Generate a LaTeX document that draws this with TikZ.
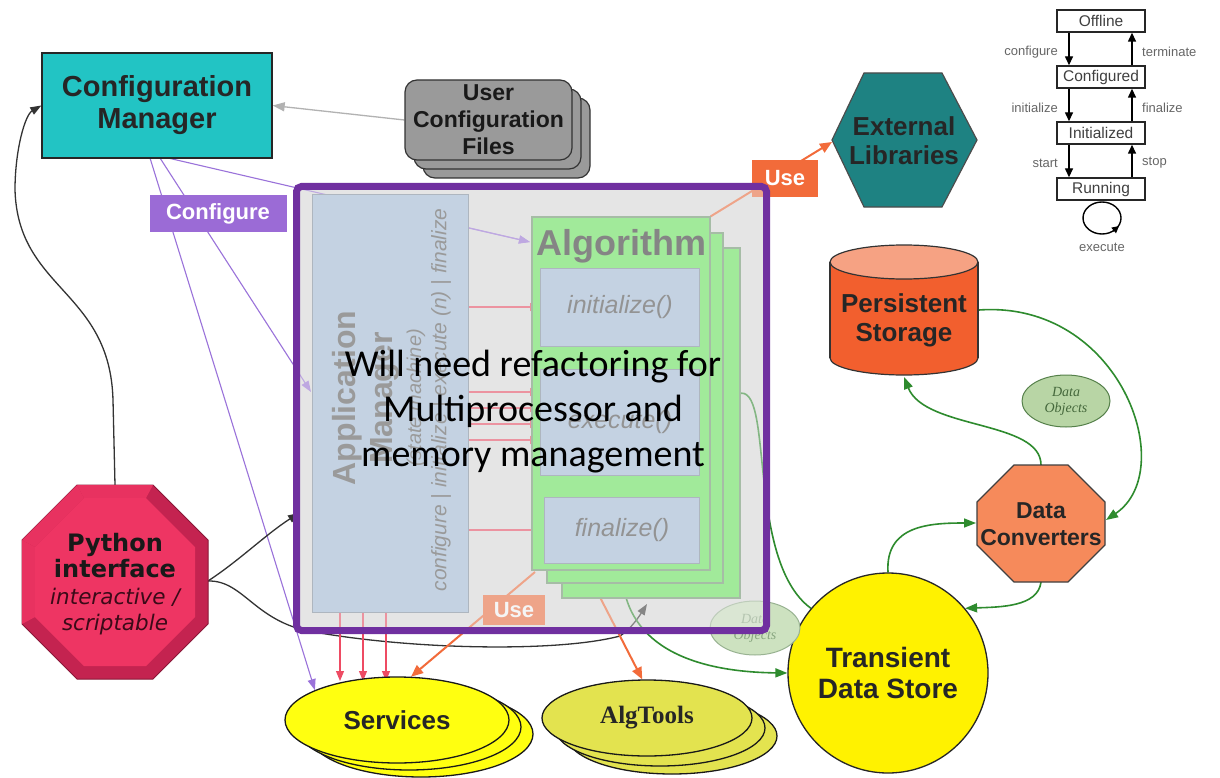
\documentclass[tikz,border=0pt]{standalone}
\usepackage{fontspec}
\setmainfont{Liberation Sans}
\newfontfamily\carlito{Carlito}
\newfontfamily\tmsfont{Liberation Serif}
\newfontfamily\dvsfont{DejaVu Sans}
\usetikzlibrary{arrows.meta,shapes.geometric}
\newcommand\setfs[2]{\fontsize{#1}{#2}\selectfont}

\definecolor{cmteal}{HTML}{22C4C4}
\definecolor{ucfgray}{HTML}{9A9A9A}
\definecolor{cfgpurple}{HTML}{9B6BD6}
\definecolor{linepurple}{HTML}{9A72DA}
\definecolor{boxpurple}{HTML}{7030A0}
\definecolor{veilgray}{HTML}{EBEBEB}
\definecolor{basegray}{HTML}{E1E1E1}
\definecolor{ambl}{HTML}{A5BFDC}
\definecolor{ambord}{HTML}{7C8C9C}
\definecolor{algrn}{HTML}{66EA58}
\definecolor{algbord}{HTML}{6F966F}
\definecolor{callpink}{HTML}{EE4B63}
\definecolor{useorange}{HTML}{F26B3A}
\definecolor{extteal}{HTML}{1E8282}
\definecolor{psred}{HTML}{F25F2E}
\definecolor{pstop}{HTML}{F6A283}
\definecolor{dcorange}{HTML}{F68A5B}
\definecolor{flowgreen}{HTML}{2E8B2E}
\definecolor{dobjfill}{HTML}{B8D5A5}
\definecolor{dobjline}{HTML}{55804A}
\definecolor{svcyellow}{HTML}{FFFF10}
\definecolor{atyellow}{HTML}{E3E34F}
\definecolor{pyouter}{HTML}{C42350}
\definecolor{pyinner}{HTML}{EE3563}

\pgfdeclarelayer{base}
\pgfdeclarelayer{links}
\pgfdeclarelayer{veil}
\pgfsetlayers{base,links,main,veil}

\begin{document}
\begin{tikzpicture}[x=1pt,y=-1pt,
  smbox/.style={draw=black!85, line width=1.4pt, fill=white, minimum width=88pt,
    minimum height=22pt, inner sep=0pt, font=\setfs{15.5}{18}, text=black!75},
  smlbl/.style={font=\setfs{13}{15}, text=black!60, inner sep=0pt},
  smarr/.style={line width=1.4pt, -{Triangle[length=9pt,width=8pt]}},
  purpl/.style={draw=linepurple, line width=1.1pt, -{Triangle[length=11pt,width=8pt]}},
  pinkarr/.style={draw=callpink, line width=1.1pt, -{Triangle[length=10pt,width=8pt]}},
  orarr/.style={draw=useorange, line width=2pt, -{Triangle[length=12pt,width=10pt]}},
  grnarr/.style={draw=flowgreen, line width=1.6pt, -{Triangle[length=12pt,width=9pt]}},
  blkarr/.style={draw=black!80, line width=1.3pt, -{Triangle[length=11pt,width=8pt]}},
  tag/.style={text=white, font=\bfseries\setfs{22}{24}, inner sep=0pt},
  dobj/.style={ellipse, draw=dobjline, fill=dobjfill, line width=1pt, inner sep=0pt,
    align=center, font=\tmsfont\itshape\setfs{14}{16}, text=dobjline!80!black},
  svcell/.style={ellipse, draw=black!90, fill=svcyellow, line width=1.3pt,
    minimum width=224pt, minimum height=86pt, inner sep=0pt},
  atell/.style={ellipse, draw=black!90, fill=atyellow, line width=1.3pt,
    minimum width=210pt, minimum height=76pt, inner sep=0pt},
  subbox/.style={draw=ambord, fill=ambl, line width=1pt, inner sep=0pt},
  algbox/.style={draw=algbord, fill=algrn, line width=1.2pt, inner sep=0pt}
]
\useasboundingbox (0,0) rectangle (1220,778);

% ---------- page and the region behind the framework core ----------
\begin{pgfonlayer}{base}
  \fill[white] (0,0) rectangle (1220,778);
  \fill[basegray] (296.5,186.5) rectangle (766.5,630.5);
\end{pgfonlayer}

% ---------- configuration ----------
\node[draw=black!85, line width=1.3pt, fill=cmteal, minimum width=230pt, minimum height=105pt,
  inner sep=0pt, align=center, font=\bfseries\setfs{29}{32}, text=black!85] (cm) at (157,105.5)
  {Configuration\\Manager};

\foreach \d in {18,9}
  \draw[fill=ucfgray, draw=black!80, line width=1.2pt, rounded corners=12pt]
    (405+\d,80+\d) rectangle (572+\d,160+\d);
\node[draw=black!80, fill=ucfgray, line width=1.2pt, rounded corners=12pt, minimum width=167pt,
  minimum height=80pt, inner sep=0pt, align=center, font=\bfseries\setfs{23}{27}, text=black!90]
  (ucf) at (488.5,120) {User\\Configuration\\Files};

\node[fill=cfgpurple, tag, minimum width=137pt, minimum height=37pt] (cfglbl) at (218,213.5) {Configure};

% ---------- application manager ----------
\node[subbox, minimum width=156pt, minimum height=417pt] (am) at (390,403.5) {};
\node[rotate=90, font=\bfseries\setfs{32}{34}, text=black!65] (amt1) at (347,398) {Application};
\node[rotate=90, font=\bfseries\setfs{32}{34}, text=black!65] (amt2) at (385,398) {Manager};
\node[rotate=90, font=\itshape\setfs{20}{22}, text=black!65] (amt3) at (416,398) {(state machine)};
\node[rotate=90, font=\itshape\setfs{21}{23}, text=black!65] (amt4) at (441,400)
  {configure | initialize | execute (n) | finalize};

% ---------- algorithm stack ----------
\node[algbox, minimum width=178pt, minimum height=350pt] (algb2) at (651,423) {};
\node[algbox, minimum width=176pt, minimum height=350pt] (algb1) at (635,408) {};
\node[algbox, minimum width=178pt, minimum height=353pt] (alg) at (621,393.5) {};
\node[font=\bfseries\setfs{36}{38}, text=black!80] (algt) at (621,246) {Algorithm};
\node[subbox, minimum width=159pt, minimum height=78pt] (ini) at (620,307)
  {\itshape\setfs{25}{27}\color{black!70}initialize()};
\node[subbox, minimum width=159pt, minimum height=106pt] (exe) at (620,422)
  {\itshape\setfs{25}{27}\color{black!70}execute()};
\node[subbox, minimum width=155pt, minimum height=66pt] (fin) at (622,530)
  {\itshape\setfs{25}{27}\color{black!70}finalize()};

% ---------- use labels ----------
\node[fill=useorange, tag, minimum width=66pt, minimum height=37pt] (use1) at (785,178.5) {Use};
\node[fill=useorange, tag, minimum width=62pt, minimum height=30pt] (use2) at (514,610) {Use};

% ---------- external libraries ----------
\filldraw[fill=extteal, draw=black!70, line width=1.2pt]
  (832,140) -- (864,73) -- (942,73) -- (977,140) -- (942,207) -- (864,207) -- cycle;
\node[align=center, font=\bfseries\setfs{26}{29}, text=black!85] (ext) at (904,141) {External\\Libraries};

% ---------- state machine ----------
\node[smbox] (off) at (1101,21) {Offline};
\node[smbox] (cfgd) at (1101,77) {Configured};
\node[smbox] (init) at (1101,133) {Initialized};
\node[smbox] (run) at (1101,189) {Running};
\coordinate (lx) at (1069,0);
\coordinate (rx) at (1132,0);
\draw[smarr] (off.south -| lx) -- (cfgd.north -| lx);
\draw[smarr] (cfgd.south -| lx) -- (init.north -| lx);
\draw[smarr] (init.south -| lx) -- (run.north -| lx);
\draw[smarr] (cfgd.north -| rx) -- (off.south -| rx);
\draw[smarr] (init.north -| rx) -- (cfgd.south -| rx);
\draw[smarr] (run.north -| rx) -- (init.south -| rx);
\node[smlbl, anchor=east] (lcfg) at (1058,52) {configure};
\node[smlbl, anchor=east] (linit) at (1058,108) {initialize};
\node[smlbl, anchor=east] (lstart) at (1058,163) {start};
\node[smlbl, anchor=west] (lterm) at (1142,52) {terminate};
\node[smlbl, anchor=west] (lfin) at (1142,108) {finalize};
\node[smlbl, anchor=west] (lstop) at (1142,163) {stop};
\draw[line width=1.4pt] (1102,218) ellipse[x radius=19, y radius=16];
\draw[line width=1.4pt, -{Triangle[length=7pt,width=7pt]}] (1113,231) -- (1119,226);
\node[smlbl] (exec) at (1102,247) {execute};

% ---------- persistent storage ----------
\filldraw[fill=psred, draw=black!80, line width=1.2pt] (904,358) ellipse[x radius=74, y radius=17];
\fill[psred] (830,262) rectangle (978,358);
\draw[black!80, line width=1.2pt] (830,262) -- (830,358) (978,262) -- (978,358);
\filldraw[fill=pstop, draw=black!80, line width=1.2pt] (904,262) ellipse[x radius=74, y radius=17];
\node[align=center, font=\bfseries\setfs{26}{29}, text=black!85] (ps) at (904,320) {Persistent\\Storage};
\coordinate (psb) at (904,377);
\coordinate (psr) at (979,310);

\node[dobj, minimum width=88pt, minimum height=52pt] (dobj1) at (1066,401) {Data\\Objects};

% ---------- data converters ----------
\filldraw[fill=dcorange, draw=black!75, line width=1.2pt]
  (1014,465) -- (1068,465) -- (1105,502) -- (1105,545) -- (1068,582) -- (1014,582) -- (977,545) -- (977,502) -- cycle;
\node[align=center, font=\bfseries\setfs{23}{27}, text=black!85] (dc) at (1041,524) {Data\\Converters};
\coordinate (dcn) at (1041,465);
\coordinate (dcs) at (1041,582);
\coordinate (dce) at (1106,520);
\coordinate (dcw) at (976,523);

% ---------- transient data store ----------
\node[circle, draw=black!85, line width=1.3pt, fill=yellow, minimum size=200pt, inner sep=0pt,
  align=center, font=\bfseries\setfs{28}{31}, text=black!85] (tds) at (888,673) {Transient\\Data Store};

\node[dobj, draw=dobjline!60, fill=dobjfill!70, text=dobjline!70,
  minimum width=90pt, minimum height=54pt] (dobj2) at (755,628) {Data\\Objects};

% ---------- services and tools ----------
\node[svcell] (svcb2) at (421,734) {};
\node[svcell] (svcb1) at (409,727) {};
\node[svcell, font=\bfseries\setfs{26}{28}, text=black!85] (svc) at (397,720) {Services};
\node[atell] (atb2) at (672,736) {};
\node[atell] (atb1) at (660,728) {};
\node[atell, font=\tmsfont\bfseries\setfs{25}{27}, text=black!85] (at) at (647,718) {AlgTools};

% ---------- python interface ----------
\filldraw[fill=pyouter, draw=pyouter!70!black, line width=1pt]
  (77,485) -- (153,485) -- (208,540) -- (208,624) -- (153,679) -- (77,679) -- (22,624) -- (22,540) -- cycle;
\fill[pyinner!85!pyouter] (77,485) -- (153,485) -- (146,498) -- (84,498) -- cycle;
\fill[pyinner!85!pyouter] (22,540) -- (77,485) -- (84,498) -- (35,547) -- cycle;
\fill[pyinner!85!pyouter] (22,540) -- (35,547) -- (35,617) -- (22,624) -- cycle;
\fill[pyinner] (84,498) -- (146,498) -- (195,547) -- (195,617) -- (146,666) -- (84,666) -- (35,617) -- (35,547) -- cycle;
\node[align=center, text=black!90, font=\dvsfont\setfs{24}{26.5}] (py) at (115,584)
  {\bfseries Python\\\bfseries interface\\{\itshape\setfs{21.5}{26.5}\color{pyouter!30!black}interactive /}\\{\itshape\setfs{21.5}{26.5}\color{pyouter!30!black}scriptable}};
\coordinate (pytop) at (115,485);
\coordinate (pyr) at (208,581);

% ---------- connectors ----------
\coordinate (cms1) at (150,158);
\coordinate (cms2) at (160,158);
\coordinate (cms3) at (168,158);
\coordinate (algin) at (530,242);
\coordinate (amcfg) at (311,392);
\coordinate (amleft) at (299,513);
\coordinate (tipup) at (647,604);
\coordinate (algbl) at (535,572);
\coordinate (algbm) at (587,572);
\coordinate (algout) at (622,572);
\coordinate (algside) at (727,398);

\begin{pgfonlayer}{links}
  \draw[draw=black!30, line width=1.3pt, -{Triangle[length=12pt,width=9pt]}] (ucf.west) -- (cm.east);
  \draw[purpl] (cms3) -- (algin);
  \draw[purpl] (cms2) -- (amcfg);
  \draw[purpl] (cms1) -- (svc.160);
  \draw[blkarr] (pytop) -- (113,400) .. controls (110,290) and (18,290) .. (15,190)
    .. controls (15,150) and (25,115) .. (cm.west);
  \draw[blkarr] (pyr) .. controls (240,560) and (265,535) .. (amleft);
  \draw[blkarr] (pyr) .. controls (245,580) and (255,625) .. (320,633)
    .. controls (420,650) and (560,652) .. (620,636) .. controls (632,628) and (640,615) .. (tipup);
  % calls from the application manager into the algorithm
  \draw[purpl] (am.east |- 0,228) -- (algin);
  \draw[pinkarr] (am.east |- ini) -- (ini.west);
  \foreach \yy in {392,408,424,440}
    \draw[pinkarr] (am.east |- 0,\yy) -- (exe.west |- 0,\yy);
  \draw[pinkarr] (am.east |- fin) -- (fin.west);
  % services used by the application manager
  \foreach \xx in {340,363,386}
    \draw[pinkarr] (am.south -| \xx,0) -- (\xx,681);
  % use relations
  \draw[orarr] (algbl) -- (svc.72);
  \draw[orarr] (algbm) -- (at.97);
  \draw[orarr] (alg.north east) -- (832,142);
  % data flow
  \draw[grnarr] (dcn) .. controls (1041,420) and (925,430) .. (psb);
  \draw[grnarr] (psr) .. controls (1120,300) and (1180,470) .. (dce);
  \draw[grnarr] (tds.north) .. controls (885,525) and (930,523) .. (dcw);
  \draw[grnarr] (dcs) .. controls (1038,607) and (1000,607) .. (tds.40);
  \draw[grnarr] (algout) .. controls (625,650) and (700,672) .. (tds.west);
  \draw[grnarr] (tds.140) .. controls (745,560) and (775,380) .. (algside);
\end{pgfonlayer}

% ---------- framework core under revision ----------
\begin{pgfonlayer}{veil}
  \fill[veilgray, opacity=0.45] (296.5,186.5) rectangle (766.5,630.5);
  \draw[boxpurple, line width=7pt, rounded corners=5pt] (296.5,186.5) rectangle (766.5,630.5);
  \node[align=center, inner sep=0pt, font=\carlito\setfs{38}{45}, text=black] (note) at (533,412)
    {Will need refactoring for\\Multiprocessor and\\memory management};
\end{pgfonlayer}
\end{tikzpicture}
\end{document}
